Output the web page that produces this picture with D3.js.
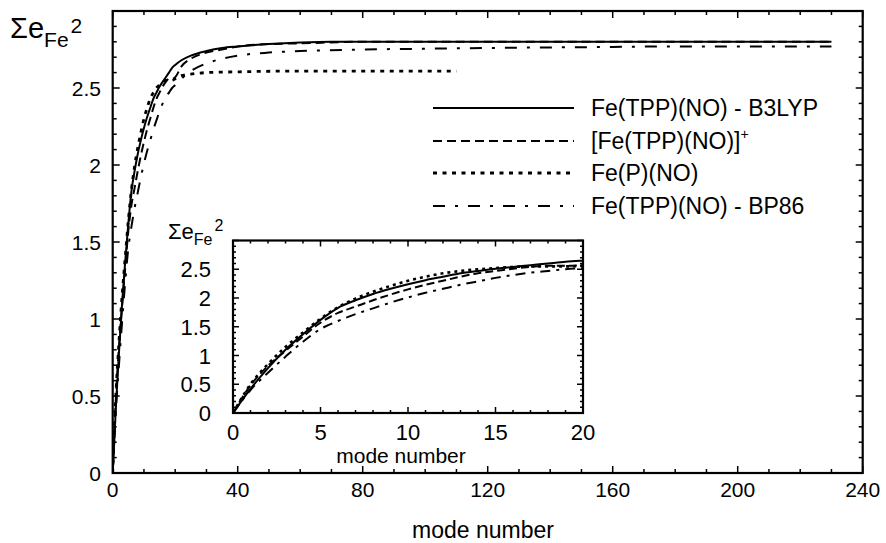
<!DOCTYPE html>
<html><head><meta charset="utf-8">
<script src="https://cdn.jsdelivr.net/npm/d3@7"></script>
<style>body{margin:0;background:#fff}svg{display:block}text{font-family:"Liberation Sans",Arial,Helvetica,sans-serif;fill:#000}</style>
</head><body>
<svg id="c" width="886" height="543"></svg>
<script>
// ---- data ----
const seriesNames = ["Fe(TPP)(NO) - B3LYP", "[Fe(TPP)(NO)]+", "Fe(P)(NO)", "Fe(TPP)(NO) - BP86"];

const b3lypModes = [0,1,2,3,4,5,6,7,8,9,10,11,12,13,14,15,16,17,18,19,20,22,25,30,35,40,50,60,70,80,100,120,150,180,230];
const b3lypSum   = [0,0.42,0.78,1.10,1.37,1.62,1.83,1.96,2.07,2.16,2.24,2.31,2.37,2.43,2.47,2.51,2.54,2.57,2.60,2.63,2.65,2.68,2.71,2.74,2.76,2.77,2.785,2.795,2.80,2.80,2.80,2.80,2.80,2.80,2.80];

const cationModes = [0,1,2,3,4,5,6,7,8,9,10,11,12,13,14,15,16,17,18,19,20,22,25,30,35,40,50,60,80,100,120,150,180,230];
const cationSum   = [0,0.48,0.82,1.08,1.33,1.57,1.74,1.85,1.96,2.06,2.15,2.23,2.30,2.37,2.43,2.47,2.51,2.54,2.56,2.56,2.57,2.64,2.69,2.73,2.75,2.77,2.785,2.79,2.80,2.80,2.80,2.80,2.80,2.80];

const fepModes = [0,1,2,3,4,5,6,7,8,9,10,11,12,13,14,15,16,17,18,19,20,22,25,30,40,60,80,110];
const fepSum   = [0,0.50,0.85,1.15,1.40,1.64,1.84,1.99,2.11,2.21,2.30,2.37,2.43,2.47,2.50,2.52,2.54,2.55,2.55,2.55,2.56,2.58,2.59,2.60,2.605,2.61,2.61,2.61];

const bp86Modes = [0,1,2,3,4,5,6,7,8,9,10,11,12,13,14,15,16,17,18,19,20,22,25,30,35,40,50,60,80,100,120,150,180,230];
const bp86Sum   = [0,0.40,0.70,0.98,1.24,1.46,1.60,1.72,1.82,1.92,2.01,2.09,2.16,2.23,2.29,2.35,2.40,2.44,2.47,2.50,2.52,2.56,2.61,2.66,2.69,2.71,2.73,2.74,2.75,2.755,2.76,2.765,2.77,2.77];

const mainXTicks = [0,40,80,120,160,200,240];
const mainYTicks = [0,0.5,1,1.5,2,2.5];
const insetXTicks = [0,5,10,15,20];
const insetYTicks = [0,0.5,1,1.5,2,2.5];

// ---- styles ----
const mainDash  = [null, "9,5", "4,5.5", "12,10,3,10"];
const mainWidth = [2, 2, 2.8, 2];
const insetDash = [null, "8,4", "3,4", "10,6,3,6"];
const insetWidth = [2, 2, 2.6, 2];

const series = [
  {modes:b3lypModes, vals:b3lypSum},
  {modes:cationModes, vals:cationSum},
  {modes:fepModes, vals:fepSum},
  {modes:bp86Modes, vals:bp86Sum}
];

const svg = d3.select("#c");

function frame(g, x, y, opt){
  const [x0,x1] = x.range(), [y0,y1] = y.range();
  const tk = g.append("g").attr("stroke","#000").attr("stroke-width",1.5);
  d3.range(opt.xd[0], opt.xd[1]+1e-9, opt.xMinor).forEach(v=>{
    const major = Math.abs(v/opt.xMajor - Math.round(v/opt.xMajor))<1e-6;
    const L = major?opt.majL:opt.minL;
    tk.append("line").attr("x1",x(v)).attr("x2",x(v)).attr("y1",y0).attr("y2",y0-L);
    tk.append("line").attr("x1",x(v)).attr("x2",x(v)).attr("y1",y1).attr("y2",y1+L);
  });
  d3.range(opt.yd[0], opt.yd[1]+1e-9, opt.yMinor).forEach(v=>{
    const major = Math.abs(v/opt.yMajor - Math.round(v/opt.yMajor))<1e-6;
    const L = major?opt.majL:opt.minL;
    tk.append("line").attr("y1",y(v)).attr("y2",y(v)).attr("x1",x0).attr("x2",x0+L);
    tk.append("line").attr("y1",y(v)).attr("y2",y(v)).attr("x1",x1).attr("x2",x1-L);
  });
  g.append("rect").attr("x",x0).attr("y",y1).attr("width",x1-x0).attr("height",y0-y1)
    .attr("fill","none").attr("stroke","#000").attr("stroke-width",2.2);
}

// ===== main plot =====
const X = d3.scaleLinear().domain([0,240]).range([112.7,862.7]);
const Y = d3.scaleLinear().domain([0,3]).range([473,11]);
const gm = svg.append("g");
gm.append("clipPath").attr("id","mclip").append("rect")
  .attr("x",112.7).attr("y",11).attr("width",750).attr("height",462);
const lineM = d3.line().x(d=>X(d[0])).y(d=>Y(d[1])).curve(d3.curveMonotoneX);
const curvesM = gm.append("g").attr("clip-path","url(#mclip)");
[1,3,2,0].forEach(i=>{
  const s = series[i];
  curvesM.append("path").datum(s.modes.map((m,k)=>[m,s.vals[k]]))
    .attr("d",lineM).attr("fill","none").attr("stroke","#000")
    .attr("stroke-width",mainWidth[i]).attr("stroke-dasharray",mainDash[i]);
});
frame(gm, X, Y, {xd:[0,240], xMinor:10, xMajor:40, yd:[0,3], yMinor:0.1, yMajor:0.5, majL:7, minL:4});
gm.selectAll(".xt").data(mainXTicks).enter().append("text")
  .attr("x",d=>X(d)).attr("y",497).attr("text-anchor","middle").attr("font-size",21).text(d=>d);
gm.selectAll(".yt").data(mainYTicks).enter().append("text")
  .attr("x",101).attr("y",d=>Y(d)+7.5).attr("text-anchor","end").attr("font-size",21).text(d=>d);
gm.append("text").attr("x",483).attr("y",538).attr("text-anchor","middle").attr("font-size",23).text("mode number");
const yl = gm.append("text").attr("x",10).attr("y",38);
yl.append("tspan").attr("font-size",29).text("Σe");
yl.append("tspan").attr("font-size",21).attr("dy",9).text("Fe");
yl.append("tspan").attr("font-size",21).attr("dy",-14).attr("dx",2).text("2");

// legend
const legRows = [108,141,173,206];
seriesNames.forEach((n,i)=>{
  gm.append("line").attr("x1",433).attr("x2",574).attr("y1",legRows[i]).attr("y2",legRows[i])
    .attr("stroke","#000").attr("stroke-width",mainWidth[i]).attr("stroke-dasharray",mainDash[i]);
  const t = gm.append("text").attr("x",591).attr("y",legRows[i]+8).attr("font-size",23);
  if(n.endsWith("]+")){
    t.append("tspan").text(n.slice(0,-1));
    t.append("tspan").attr("font-size",14).attr("dy",-10).text("+");
  } else t.text(n);
});

// ===== inset =====
const xi = d3.scaleLinear().domain([0,20]).range([233,583]);
const yi = d3.scaleLinear().domain([0,3]).range([413,240.5]);
const gi = svg.append("g");
gi.append("rect").attr("x",233).attr("y",240.5).attr("width",350).attr("height",172.5).attr("fill","#fff");
gi.append("clipPath").attr("id","iclip").append("rect")
  .attr("x",233).attr("y",240.5).attr("width",350).attr("height",172.5);
const lineI = d3.line().x(d=>xi(d[0])).y(d=>yi(d[1])).curve(d3.curveMonotoneX);
const curvesI = gi.append("g").attr("clip-path","url(#iclip)");
[1,3,2,0].forEach(i=>{
  const s = series[i];
  curvesI.append("path").datum(s.modes.map((m,k)=>[m,s.vals[k]]).filter(d=>d[0]<=25))
    .attr("d",lineI).attr("fill","none").attr("stroke","#000")
    .attr("stroke-width",insetWidth[i]).attr("stroke-dasharray",insetDash[i]);
});
frame(gi, xi, yi, {xd:[0,20], xMinor:1, xMajor:5, yd:[0,3], yMinor:0.1, yMajor:0.5, majL:6, minL:3});
gi.selectAll(".xt").data(insetXTicks).enter().append("text")
  .attr("x",d=>xi(d)).attr("y",440).attr("text-anchor","middle").attr("font-size",22).text(d=>d);
gi.selectAll(".yt").data(insetYTicks).enter().append("text")
  .attr("x",211).attr("y",d=>yi(d)+8).attr("text-anchor","end").attr("font-size",22).text(d=>d);
gi.append("text").attr("x",401).attr("y",463).attr("text-anchor","middle").attr("font-size",21).text("mode number");
const yli = gi.append("text").attr("x",168).attr("y",239);
yli.append("tspan").attr("font-size",22).text("Σe");
yli.append("tspan").attr("font-size",16).attr("dy",6).text("Fe");
yli.append("tspan").attr("font-size",16).attr("dy",-14).attr("dx",2).text("2");
</script>
</body></html>
